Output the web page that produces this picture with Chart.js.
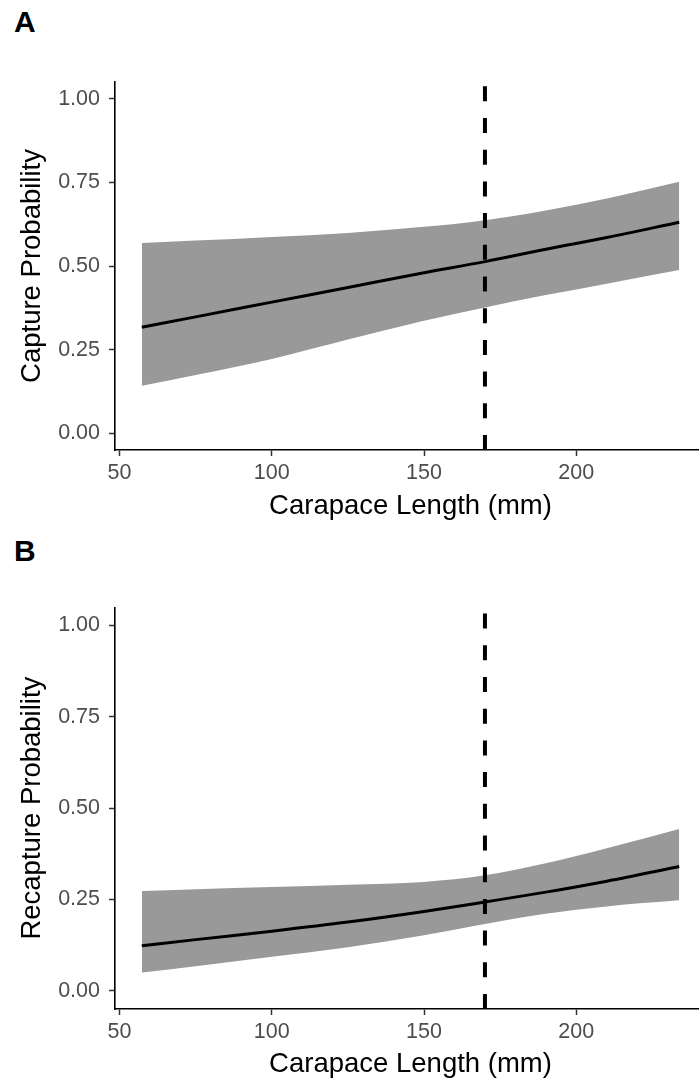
<!DOCTYPE html>
<html>
<head>
<meta charset="utf-8">
<script src="https://cdn.jsdelivr.net/npm/chart.js@4/dist/chart.umd.min.js"></script>
<style>
  html, body {
    margin: 0;
    padding: 0;
    background: #ffffff;
  }
  body {
    position: relative;
    width: 699px;
    height: 1078px;
    overflow: hidden;
    font-family: "Liberation Sans", Arial, sans-serif;
  }
  canvas {
    position: absolute;
    left: 0;
  }
  .panel-label {
    position: absolute;
    left: 14px;
    font-size: 30px;
    line-height: 30px;
    font-weight: bold;
    color: #000;
  }
</style>
</head>
<body>
<div class="panel-label" style="top: 7px">A</div>
<div class="panel-label" style="top: 536px">B</div>
<canvas id="captureChart" width="710" height="525" style="top: 0px"></canvas>
<canvas id="recaptureChart" width="710" height="545" style="top: 540px"></canvas>
<script>
// Carapace length (mm) where the fitted curves were read
const lengths = [57.3, 75, 100, 125, 150, 170, 190, 210, 233.8];

// Panel A: capture probability
const captureFit = [0.317, 0.348, 0.392, 0.436, 0.48, 0.513, 0.55, 0.585, 0.631];
const captureUpper = [0.569, 0.576, 0.587, 0.599, 0.617, 0.637, 0.666, 0.702, 0.752];
const captureLower = [0.142, 0.174, 0.222, 0.28, 0.336, 0.376, 0.413, 0.447, 0.488];

// Panel B: recapture probability
const recaptureFit = [0.123, 0.14, 0.163, 0.188, 0.217, 0.243, 0.27, 0.3, 0.34];
const recaptureUpper = [0.273, 0.278, 0.284, 0.29, 0.298, 0.316, 0.349, 0.39, 0.443];
const recaptureLower = [0.05, 0.067, 0.093, 0.119, 0.152, 0.183, 0.211, 0.231, 0.2475];

// Reference line and axis ticks
const cutoffLength = 170;
const xTicks = [50, 100, 150, 200];
const yTicks = [0, 0.25, 0.5, 0.75, 1];

const FONT = "'Liberation Sans', Arial, sans-serif";

const toPoints = (values) => values.map((v, i) => ({ x: lengths[i], y: v }));

const buildChart = (canvasId, fit, upper, lower, yTitle, padTop, areaHeight, titlePad) => {
  const ctx = document.getElementById(canvasId).getContext("2d");
  const canvasHeight = ctx.canvas.height;
  const chartBottom = padTop + areaHeight;

  new Chart(ctx, {
    type: "line",
    data: {
      datasets: [
        {
          label: "cutoff",
          data: [
            { x: cutoffLength, y: -0.05 },
            { x: cutoffLength, y: 1.05 },
          ],
          borderColor: "#000000",
          borderWidth: 4,
          borderDash: [15, 16.7],
          borderCapStyle: "butt",
          pointRadius: 0,
          fill: false,
        },
        {
          label: "fit",
          data: toPoints(fit),
          borderColor: "#000000",
          borderWidth: 3,
          pointRadius: 0,
          cubicInterpolationMode: "monotone",
          fill: false,
        },
        {
          label: "upper",
          data: toPoints(upper),
          borderWidth: 0,
          borderColor: "rgba(0,0,0,0)",
          backgroundColor: "#999999",
          pointRadius: 0,
          cubicInterpolationMode: "monotone",
          fill: "+1",
        },
        {
          label: "lower",
          data: toPoints(lower),
          borderWidth: 0,
          borderColor: "rgba(0,0,0,0)",
          pointRadius: 0,
          cubicInterpolationMode: "monotone",
          fill: false,
        },
      ],
    },
    options: {
      responsive: false,
      animation: false,
      devicePixelRatio: 1,
      layout: {
        autoPadding: false,
        padding: { top: padTop, right: 4, left: 0, bottom: 0 },
      },
      plugins: {
        legend: { display: false },
        tooltip: { enabled: false },
      },
      scales: {
        x: {
          type: "linear",
          min: 48.5,
          max: 242.6,
          afterBuildTicks: (scale) => {
            scale.ticks = xTicks.map((v) => ({ value: v }));
          },
          afterFit: (scale) => {
            scale.height = canvasHeight - chartBottom;
          },
          border: { display: true, color: "#000000", width: 1.6 },
          grid: {
            drawOnChartArea: false,
            drawTicks: true,
            tickLength: 6,
            tickColor: "#333333",
            tickWidth: 1.5,
          },
          ticks: {
            color: "#4D4D4D",
            padding: 4,
            maxRotation: 0,
            font: { family: FONT, size: 21.5 },
            callback: (v) => String(v),
          },
          title: {
            display: true,
            text: "Carapace Length (mm)",
            color: "#000000",
            font: { family: FONT, size: 27.5, lineHeight: 1 },
            padding: { top: 0, bottom: titlePad },
          },
        },
        y: {
          type: "linear",
          min: -0.05,
          max: 1.05,
          afterBuildTicks: (scale) => {
            scale.ticks = yTicks.map((v) => ({ value: v }));
          },
          afterFit: (scale) => {
            scale.width = 115;
          },
          border: { display: true, color: "#000000", width: 1.6 },
          grid: {
            drawOnChartArea: false,
            drawTicks: true,
            tickLength: 6,
            tickColor: "#333333",
            tickWidth: 1.5,
          },
          ticks: {
            color: "#4D4D4D",
            padding: 9,
            font: { family: FONT, size: 21.5 },
            callback: (v) => Number(v).toFixed(2),
          },
          title: {
            display: true,
            text: yTitle,
            color: "#000000",
            font: { family: FONT, size: 27.5, lineHeight: 1 },
            padding: { top: 19, bottom: 0 },
          },
        },
      },
    },
  });
};

buildChart("captureChart", captureFit, captureUpper, captureLower, "Capture Probability", 82, 368, 5);
buildChart("recaptureChart", recaptureFit, recaptureUpper, recaptureLower, "Recapture Probability", 67.3, 401.7, 7);
</script>
</body>
</html>
